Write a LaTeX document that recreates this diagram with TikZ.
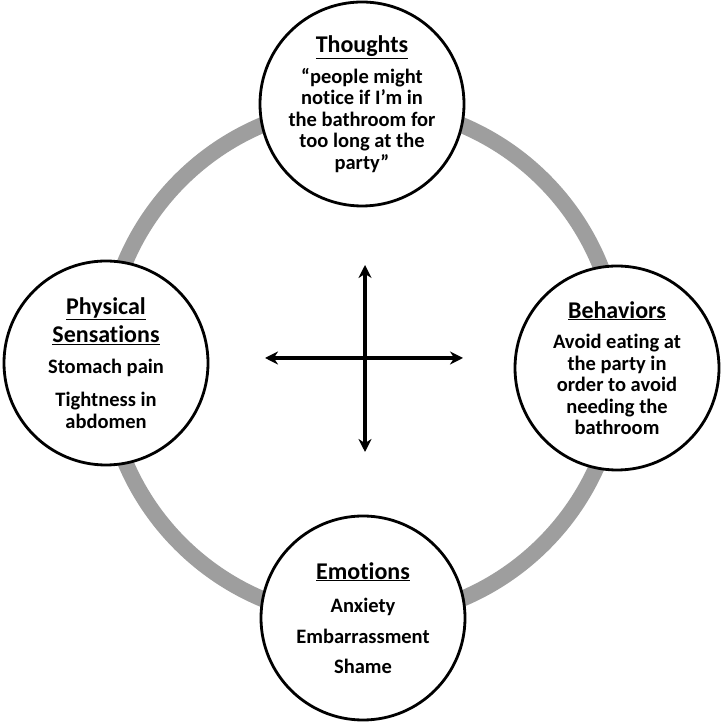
\documentclass[tikz,border=0pt]{standalone}
\usepackage{fontspec}
\setmainfont{Carlito}[Ligatures=NoCommon]
\usetikzlibrary{arrows.meta}
\definecolor{ringgray}{RGB}{158,158,158}
\newcommand{\cbthead}[1]{{\fontsize{24}{28}\selectfont\underline{#1}}}

\begin{document}
\begin{tikzpicture}[
  x=1pt,y=1pt,
  font=\bfseries\fontsize{20.5}{21.5}\selectfont,
  bubble/.style={draw,circle,line width=2.8pt,fill=white,minimum size=204pt,inner sep=0pt,align=center},
  cross/.style={line width=3.4pt},
  >={Stealth[length=13pt,width=13pt]}
]
\useasboundingbox (0,0) rectangle (722,722);
\coordinate (mid) at (362,360);
\draw[ringgray,line width=16pt] (mid) circle (257);

\node[bubble] (thoughts) at (362,618) {\cbthead{Thoughts}\\[9pt]
  “people might\\notice if I’m in\\the bathroom for\\too long at the\\party”};
\node[bubble] (physical) at (106,359) {\cbthead{Physical}\\[5pt]\cbthead{Sensations}\\[9pt]
  Stomach pain\\[12pt]Tightness in\\abdomen};
\node[bubble] (behaviors) at (617,354) {\cbthead{Behaviors}\\[9pt]
  Avoid eating at\\the party in\\order to avoid\\needing the\\bathroom};
\node[bubble] (emotions) at (363,104) {\cbthead{Emotions}\\[12pt]
  Anxiety\\[9pt]Embarrassment\\[9pt]Shame};

\coordinate (west) at (265,364);
\coordinate (east) at (463,364);
\coordinate (north) at (365,457);
\coordinate (south) at (365,270);
\draw[cross,<->] (west) -- (east);
\draw[cross,<->] (north) -- (south);
\end{tikzpicture}
\end{document}
